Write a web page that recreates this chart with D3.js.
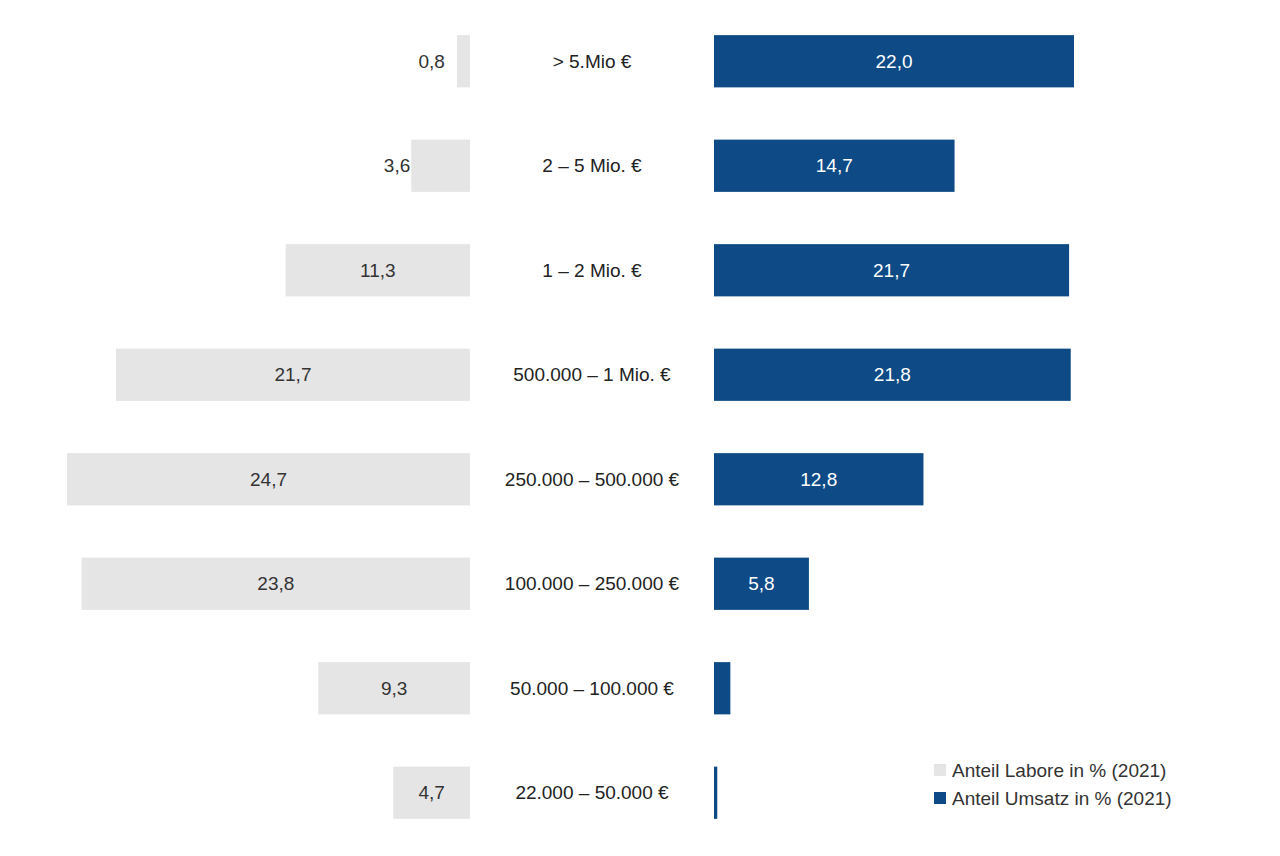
<!DOCTYPE html>
<html><head><meta charset="utf-8">
<script src="https://cdn.jsdelivr.net/npm/d3@7"></script>
<style>body{margin:0;background:#fff}</style></head>
<body><svg id="c" width="1280" height="856"></svg>
<script>
const categories = ["> 5.Mio €","2 – 5 Mio. €","1 – 2 Mio. €","500.000 – 1 Mio. €","250.000 – 500.000 €","100.000 – 250.000 €","50.000 – 100.000 €","22.000 – 50.000 €"];
const labore = [0.8,3.6,11.3,21.7,24.7,23.8,9.3,4.7];
const umsatz = [22.0,14.7,21.7,21.8,12.8,5.8,1.0,0.2];
const legendLabels = ["Anteil Labore in % (2021)","Anteil Umsatz in % (2021)"];
const grey="#e5e5e5", blue="#0d4a86";
const fmt = v => d3.format(".1f")(v).replace(".", ",");
const svg = d3.select("#c");
const font = "Liberation Sans, Arial, sans-serif";
const y = d3.scaleBand().domain(categories).range([9, 845]).paddingInner(0.5).paddingOuter(0.25);
const xl = d3.scaleLinear().domain([0,24.7]).range([470,67]);
const xr = d3.scaleLinear().domain([0,22.0]).range([714,1074]);
const g = svg.selectAll("g.row").data(categories).join("g");
g.append("rect").attr("x",(d,i)=>xl(labore[i])).attr("y",d=>y(d)).attr("width",(d,i)=>xl(0)-xl(labore[i])).attr("height",y.bandwidth()).attr("fill",grey);
g.append("rect").attr("x",xr(0)).attr("y",d=>y(d)).attr("width",(d,i)=>Math.max(2,xr(umsatz[i])-xr(0))).attr("height",y.bandwidth()).attr("fill",blue);
g.append("text").attr("x",(d,i)=>labore[i]<5 ? xl(labore[i])-4 : (xl(labore[i])+xl(0))/2)
 .attr("text-anchor",(d,i)=>labore[i]<5 && labore[i]<4 ? "end":"middle")
 .attr("x",(d,i)=>labore[i]<4 ? xl(labore[i])-(labore[i]<1?12:1) : (xl(labore[i])+xl(0))/2)
 .attr("y",d=>y(d)+y.bandwidth()/2).attr("dy","0.35em").attr("font-family",font).attr("font-size",19).attr("fill","#333").text((d,i)=>fmt(labore[i]));
g.append("text").attr("x",(d,i)=>(xr(0)+xr(umsatz[i]))/2).attr("text-anchor","middle")
 .attr("y",d=>y(d)+y.bandwidth()/2).attr("dy","0.35em").attr("font-family",font).attr("font-size",19).attr("fill","#fff")
 .text((d,i)=>umsatz[i]>=3?fmt(umsatz[i]):"");
g.append("text").attr("x",592).attr("text-anchor","middle").attr("y",d=>y(d)+y.bandwidth()/2).attr("dy","0.35em")
 .attr("font-family",font).attr("font-size",19).attr("fill","#222").text(d=>d);
const lg = svg.selectAll("g.lg").data(legendLabels).join("g").attr("transform",(d,i)=>`translate(934,${770+i*28})`);
lg.append("rect").attr("x",0).attr("y",-6).attr("width",12).attr("height",12).attr("fill",(d,i)=>i?blue:grey);
lg.append("text").attr("x",18).attr("dy","0.35em").attr("font-family",font).attr("font-size",19).attr("fill","#333").text(d=>d);
</script></body></html>
